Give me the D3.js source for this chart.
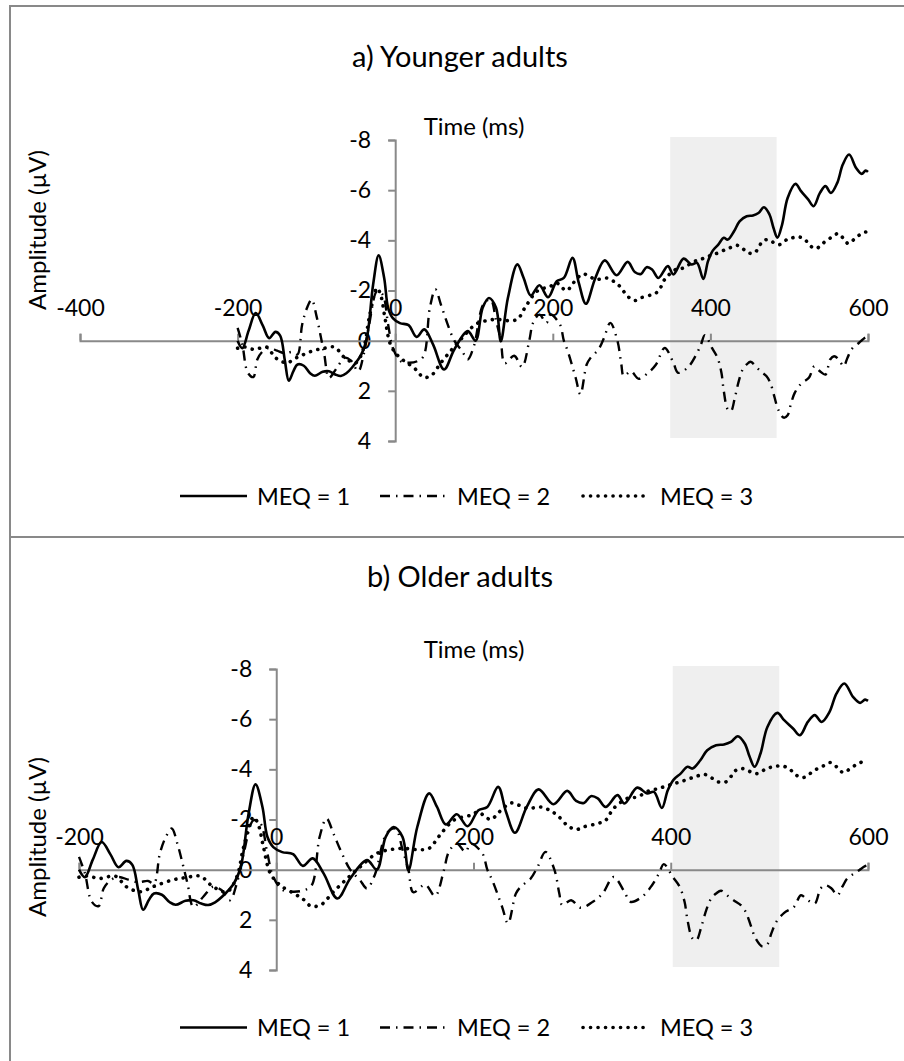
<!DOCTYPE html>
<html><head><meta charset="utf-8">
<script src="https://cdn.jsdelivr.net/npm/d3@7"></script>
<style>
body{margin:0;background:#fff}
svg{display:block}
text{font-family:Lato,"Open Sans",sans-serif;fill:#000}
</style>
</head><body>
<svg id="chart" width="904" height="1061"></svg>
<script>
// ---------- data (time in ms, amplitude in µV) ----------
const timeMEQ1 = [-200,-194,-186,-177,-168,-160,-152,-146,-140,-135,-129,-124,-116,-108,-102,-92,-84,-76,-69,-62,-55,-43,-36,-28,-21,-14,-9,-3,6,17,27,37,48,62,75,92,102,111,119,128,134,143,155,163,172,183,194,205,214,225,233,242,254,266,281,295,304,312,319,326,334,346,353,366,376,383,391,397,403,410,417,422,430,437,446,454,461,468,475,480,485,491,498,508,515,524,531,539,546,553,561,568,576,585,592,597,600];
const ampMEQ1 = [0.0,0.3,-0.4,-1.1,-0.6,-0.1,-0.35,-0.2,0.8,1.6,1.2,0.95,1.0,1.3,1.4,1.24,1.22,1.35,1.41,1.3,1.08,0.55,-0.1,-2.24,-3.4,-2.5,-1.31,-0.9,-0.7,-0.62,-0.15,-0.45,0.15,1.15,0.35,-0.38,0,-1.31,-1.7,-1.31,0.02,-1.7,-3.04,-2.5,-1.8,-2.21,-1.73,-2.37,-2.5,-3.3,-2.3,-1.47,-2.5,-3.2,-2.61,-3.14,-2.74,-2.66,-2.93,-2.84,-2.5,-2.97,-2.64,-3.27,-3.04,-3.1,-2.46,-3.17,-3.59,-3.83,-4.1,-4.03,-4.36,-4.76,-4.96,-4.99,-5.09,-5.32,-5.03,-4.5,-4.1,-4.63,-5.69,-6.25,-5.96,-5.63,-5.36,-5.89,-6.16,-5.89,-6.29,-7.02,-7.42,-6.88,-6.65,-6.78,-6.73];

const timeMEQ2 = [-200,-194,-187,-180,-175,-168,-160,-150,-140,-130,-124,-118,-112,-106,-100,-95,-90,-84,-74,-64,-56,-47,-40,-33,-23,-16,-9,-3,7,18,28,36,44,51,58,66,75,85,92,100,112,121,128,134,139,151,161,170,175,183,192,197,209,214,219,229,235,243,248,258,265,273,282,287,290,299,309,321,331,342,353,359,371,381,388,393,402,409,414,417,422,426,431,436,441,446,451,459,466,471,476,481,486,493,498,502,507,515,525,532,539,546,552,557,563,569,574,579,586,591,597,600];
const ampMEQ2 = [-0.51,0.15,1.28,1.45,0.75,0.42,0.29,0.4,0.5,0.45,0.55,-0.65,-1.3,-1.64,-1.0,-0.25,0.55,1.48,1.08,0.68,0.8,1.22,0.55,-0.65,-1.97,-1.84,-0.65,0.29,0.82,0.88,0.82,0.62,-1.31,-2.04,-1.44,-0.7,0.0,0.42,0.75,0.2,-1.45,-1.64,-0.8,0.0,0.9,0.6,1.05,0.02,-0.71,-1.04,-0.71,-1.04,-0.65,0.0,0.42,1.48,2.14,0.95,0.68,0.35,-0.11,-0.71,0.0,0.95,1.41,1.22,1.52,1.28,0.95,0.29,0.88,1.28,1.08,0.62,0.15,-0.22,0.29,0.68,1.28,2.01,2.74,2.81,2.28,1.61,1.15,0.95,0.84,1.08,1.28,1.41,1.68,2.21,2.74,3.07,2.97,2.54,2.08,1.72,1.48,1.02,1.22,1.35,0.75,0.62,0.75,1.02,0.68,0.35,0.15,0.02,-0.14,-0.18];

const timeMEQ3 = [-200,-192,-179,-163,-152,-138,-125,-106,-91,-77,-64,-50,-40,-33,-23,-18,-13,-6,4,18,28,35,45,58,72,85,102,116,129,143,155,165,180,197,205,212,218,226,238,246,255,268,277,285,295,304,312,326,334,342,356,366,378,387,395,403,410,419,426,434,441,448,456,462,466,473,481,488,497,504,512,520,526,534,540,547,555,562,569,575,582,590,597,600];
const ampMEQ3 = [0.3,0.25,0.35,0.26,0.68,0.88,0.68,0.42,0.31,0.26,0.68,0.88,0.29,-0.91,-2.1,-1.77,-0.91,0.15,0.62,0.95,1.2,1.45,1.41,0.88,0.35,-0.11,-0.65,-0.8,-0.85,-0.8,-0.85,-1.33,-1.97,-2.17,-2.3,-2.1,-2.0,-2.3,-2.66,-2.57,-2.44,-2.5,-2.37,-2.17,-1.77,-1.6,-1.71,-1.84,-1.97,-2.44,-2.84,-2.9,-3.14,-3.23,-3.33,-3.43,-3.5,-3.63,-3.72,-3.8,-3.67,-3.5,-3.5,-3.76,-3.96,-4.03,-3.9,-3.83,-4.03,-4.1,-4.14,-4.03,-3.8,-3.67,-3.8,-3.99,-4.14,-4.27,-4.07,-3.87,-4.03,-4.23,-4.33,-4.33];

const seriesNames = ["MEQ = 1", "MEQ = 2", "MEQ = 3"];
const panelTitles = ["a) Younger adults", "b) Older adults"];
const xTicksA = [-400, -200, 0, 200, 400, 600];
const xTicksB = [-200, 0, 200, 400, 600];
const yTicks = [-8, -6, -4, -2, 0, 2, 4];
const windowA = [349, 484];   // shaded time window, panel a (ms)
const windowB = [402, 510];   // shaded time window, panel b (ms)
const windowAmp = [-8.12, 3.88];
const xTitle = "Time (ms)";
const yTitle = "Amplitude (µV)";

// ---------- styles ----------
const seriesStyles = [
  {width: 2.6, dash: null, cap: "butt"},
  {width: 2.4, dash: "10 6 1.5 6", cap: "butt"},
  {width: 3.6, dash: "0.1 7.4", cap: "round"}
];
const series = [
  timeMEQ1.map((t, i) => ({t, v: ampMEQ1[i]})),
  timeMEQ2.map((t, i) => ({t, v: ampMEQ2[i]})),
  timeMEQ3.map((t, i) => ({t, v: ampMEQ3[i]}))
];

const svg = d3.select("#chart");
const axisColor = "#898989";
const fmt = d => String(d);   // plain hyphen-minus like the original

// outer frames
svg.append("rect").attr("x", 10).attr("y", 6).attr("width", 1000).attr("height", 531)
  .attr("fill", "none").attr("stroke", axisColor).attr("stroke-width", 2);
svg.append("rect").attr("x", 10).attr("y", 537).attr("width", 1000).attr("height", 600)
  .attr("fill", "none").attr("stroke", axisColor).attr("stroke-width", 2);

const panels = [
  {title: panelTitles[0], titleY: 67, timeY: 135, xDomain: [-400, 600], xRange: [80, 868], yRange: [140, 441],
   ticks: xTicksA, win: windowA, ylabY: 230, legendY: 496},
  {title: panelTitles[1], titleY: 587, timeY: 658, xDomain: [-200, 600], xRange: [79, 868], yRange: [669, 970],
   ticks: xTicksB, win: windowB, ylabY: 837, legendY: 1027.5}
];

panels.forEach(p => {
  const g = svg.append("g");
  const x = d3.scaleLinear().domain(p.xDomain).range(p.xRange);
  const y = d3.scaleLinear().domain([-8, 4]).range(p.yRange);

  // shaded window
  g.append("rect")
    .attr("x", x(p.win[0])).attr("width", x(p.win[1]) - x(p.win[0]))
    .attr("y", y(windowAmp[0])).attr("height", y(windowAmp[1]) - y(windowAmp[0]))
    .attr("fill", "#efefef");

  // y axis
  const ya = g.append("g").attr("transform", `translate(${x(0)},0)`)
    .call(d3.axisLeft(y).tickValues(yTicks).tickSize(7).tickSizeOuter(7).tickPadding(17).tickFormat(fmt));
  // x axis
  const xa = g.append("g").attr("transform", `translate(0,${y(0)})`)
    .call(d3.axisTop(x).tickValues(p.ticks).tickSize(7).tickSizeOuter(7).tickPadding(18).tickFormat(fmt));
  [ya, xa].forEach(a => {
    a.select(".domain").attr("stroke", axisColor).attr("stroke-width", 2);
    a.selectAll(".tick line").attr("stroke", axisColor).attr("stroke-width", 2);
    a.selectAll(".tick text").attr("font-size", 23).attr("font-family", "Lato").attr("fill", "#000");
  });
  xa.selectAll(".tick text").attr("dy", "0em");

  // titles
  g.append("text").attr("x", 460).attr("y", p.titleY).attr("text-anchor", "middle")
    .attr("font-size", 29).text(p.title);
  g.append("text").attr("x", 474).attr("y", p.timeY).attr("text-anchor", "middle")
    .attr("font-size", 24).text(xTitle);
  g.append("text").attr("transform", `translate(46,${p.ylabY}) rotate(-90)`).attr("text-anchor", "middle")
    .attr("font-size", 24).text(yTitle);

  // series
  const line = d3.line().x(d => x(d.t)).y(d => y(d.v)).curve(d3.curveCatmullRom.alpha(0.5));
  series.forEach((s, i) => {
    const st = seriesStyles[i];
    g.append("path").datum(s).attr("d", line).attr("fill", "none").attr("stroke", "#000")
      .attr("stroke-width", st.width).attr("stroke-dasharray", st.dash).attr("stroke-linecap", st.cap)
      .attr("stroke-linejoin", "round");
  });

  // legend
  const legendX = [[180, 247, 257], [380, 449, 457], [583, 649, 660]];
  seriesNames.forEach((name, i) => {
    const st = seriesStyles[i];
    const [x0, x1, tx] = legendX[i];
    g.append("line").attr("x1", x0).attr("x2", x1).attr("y1", p.legendY).attr("y2", p.legendY)
      .attr("stroke", "#000").attr("stroke-width", st.width).attr("stroke-dasharray", st.dash)
      .attr("stroke-linecap", st.cap);
    g.append("text").attr("x", tx).attr("y", p.legendY + 8.5).attr("font-size", 23.5).text(name);
  });
});
</script>
</body></html>
